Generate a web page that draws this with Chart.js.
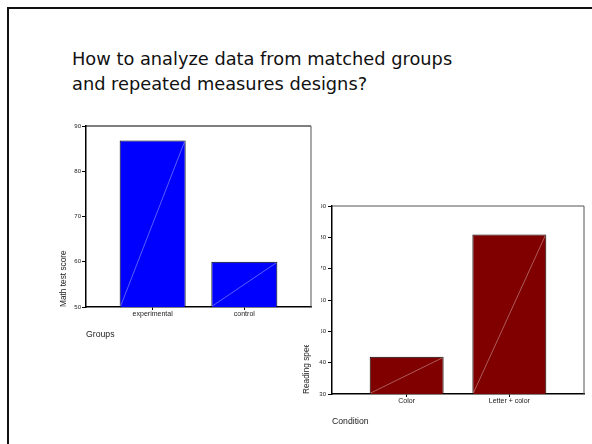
<!DOCTYPE html>
<html>
<head>
<meta charset="utf-8">
<script src="https://cdn.jsdelivr.net/npm/chart.js@4.4.0/dist/chart.umd.min.js"></script>
<style>
  body { margin: 0; background: #fff; width: 592px; height: 444px; overflow: hidden; position: relative; }
  #frame { position: absolute; left: 7px; top: 7px; width: 700px; height: 600px; border-left: 2px solid #111; border-top: 2px solid #111; }
  #title { position: absolute; left: 72px; top: 46px; font-family: "DejaVu Sans", sans-serif; font-size: 17.8px; line-height: 25px; color: #111; white-space: nowrap; }
  #chart2 { position: absolute; left: 290px; top: 190px; }
  #chart1 { position: absolute; left: 40px; top: 110px; background: #fff; }
</style>
</head>
<body>
<div id="frame"></div>
<div id="title">How to analyze data from matched groups<br>and repeated measures designs?</div>
<canvas id="chart2" width="302" height="254"></canvas>
<canvas id="chart1" width="281" height="235"></canvas>
<script>
Chart.defaults.font.family = '"Liberation Sans", Arial, sans-serif';
Chart.defaults.color = '#222';
Chart.defaults.animation = false;

// left chart
const groups = ['experimental', 'control'];
const mathScores = [86.8, 60];
const mathTicks = [50, 60, 70, 80, 90];

// right chart
const conditions = ['Color', 'Letter + color'];
const readingSpeed = [41.9, 80.9];
const readingTicks = [30, 40, 50, 60, 70, 80, 90];


// thin light streak across each bar, bottom-left to top-right
const barStreak = {
    id: 'barStreak',
    afterDatasetsDraw(chart) {
        const ctx = chart.ctx;
        const bottom = chart.chartArea.bottom;
        ctx.save();
        ctx.strokeStyle = 'rgba(255,255,255,0.45)';
        ctx.lineWidth = 0.8;
        chart.getDatasetMeta(0).data.forEach((bar) => {
            const p = bar.getProps(['x', 'y', 'base', 'width'], true);
            ctx.beginPath();
            ctx.moveTo(p.x - p.width / 2 + 1, Math.min(p.base, bottom) - 1);
            ctx.lineTo(p.x + p.width / 2 - 1, p.y + 1);
            ctx.stroke();
        });
        ctx.restore();
    }
};

// top + right edge of the plot box
const boxFrame = {
    id: 'boxFrame',
    afterDraw(chart, args, opts) {
        const a = chart.chartArea;
        const ctx = chart.ctx;
        ctx.save();
        ctx.lineWidth = opts.width;
        ctx.strokeStyle = opts.topColor;
        ctx.beginPath();
        ctx.moveTo(a.left, a.top);
        ctx.lineTo(a.right, a.top);
        ctx.stroke();
        ctx.strokeStyle = opts.sideColor;
        ctx.beginPath();
        ctx.moveTo(a.right, a.top);
        ctx.lineTo(a.right, a.bottom);
        ctx.stroke();
        ctx.restore();
    }
};


function makeConfig(labels, values, color, yTicks, yTitle, xTitle, box) {
    return {
        type: 'bar',
        data: {
            datasets: [{
                data: labels.map((l, i) => ({ x: i, y: values[i] })),
                backgroundColor: color,
                borderColor: '#000',
                borderWidth: 1,
                borderSkipped: false,
            }]
        },
        options: {
            responsive: false,
            layout: { padding: { top: box.top, right: box.right, left: 0, bottom: 0 } },
            plugins: {
                legend: { display: false },
                tooltip: { enabled: false },
                boxFrame: { width: 1, topColor: box.topColor, sideColor: '#555' },
            },
            scales: {
                x: {
                    type: 'linear',
                    offset: false,
                    min: -0.727,
                    max: labels.length - 1 + 0.727,
                    afterBuildTicks: (s) => { s.ticks = labels.map((l, i) => ({ value: i })); },
                    afterFit: (s) => { s.height = box.xHeight; },
                    grid: { display: true, offset: false, drawOnChartArea: false, drawTicks: true, tickLength: 3, color: '#000' },
                    border: { display: true, color: '#000', width: 1.5 },
                    ticks: {
                        padding: 0,
                        font: { size: 7 },
                        maxRotation: 0,
                        autoSkip: false,
                        callback: (v) => labels[v],
                    },
                    title: {
                        display: true,
                        text: xTitle,
                        align: 'start',
                        color: '#222',
                        font: { size: 8.7 },
                        padding: { top: 0, bottom: box.xTitlePad },
                    },
                },
                y: {
                    min: yTicks[0],
                    max: yTicks[yTicks.length - 1],
                    afterFit: (s) => { s.width = box.yWidth; },
                    grid: { display: true, drawOnChartArea: false, drawTicks: true, tickLength: 4, color: '#000' },
                    border: { display: true, color: '#000', width: 1.5 },
                    ticks: { stepSize: 10, padding: box.yTickPad, font: { size: 6 } },
                    title: {
                        display: true,
                        text: yTitle,
                        align: 'start',
                        color: '#222',
                        font: { size: 8.3 },
                        padding: { top: box.yTitlePad, bottom: 0 },
                    },
                },
            },
        },
        plugins: [barStreak, boxFrame],
    };
}


const chart2 = new Chart(document.getElementById('chart2'),
    makeConfig(conditions, readingSpeed, '#800000', readingTicks, 'Reading speed', 'Condition',
        { top: 16, right: 8, yWidth: 42, xHeight: 50, xTitlePad: 17, yTitlePad: 12, yTickPad: 2, topColor: '#555' }));

const chart1 = new Chart(document.getElementById('chart1'),
    makeConfig(groups, mathScores, '#0000ff', mathTicks, 'Math test score', 'Groups',
        { top: 16, right: 10, yWidth: 46, xHeight: 38, xTitlePad: 4.8, yTitlePad: 19, yTickPad: 1, topColor: '#000' }));
</script>
</body>
</html>
